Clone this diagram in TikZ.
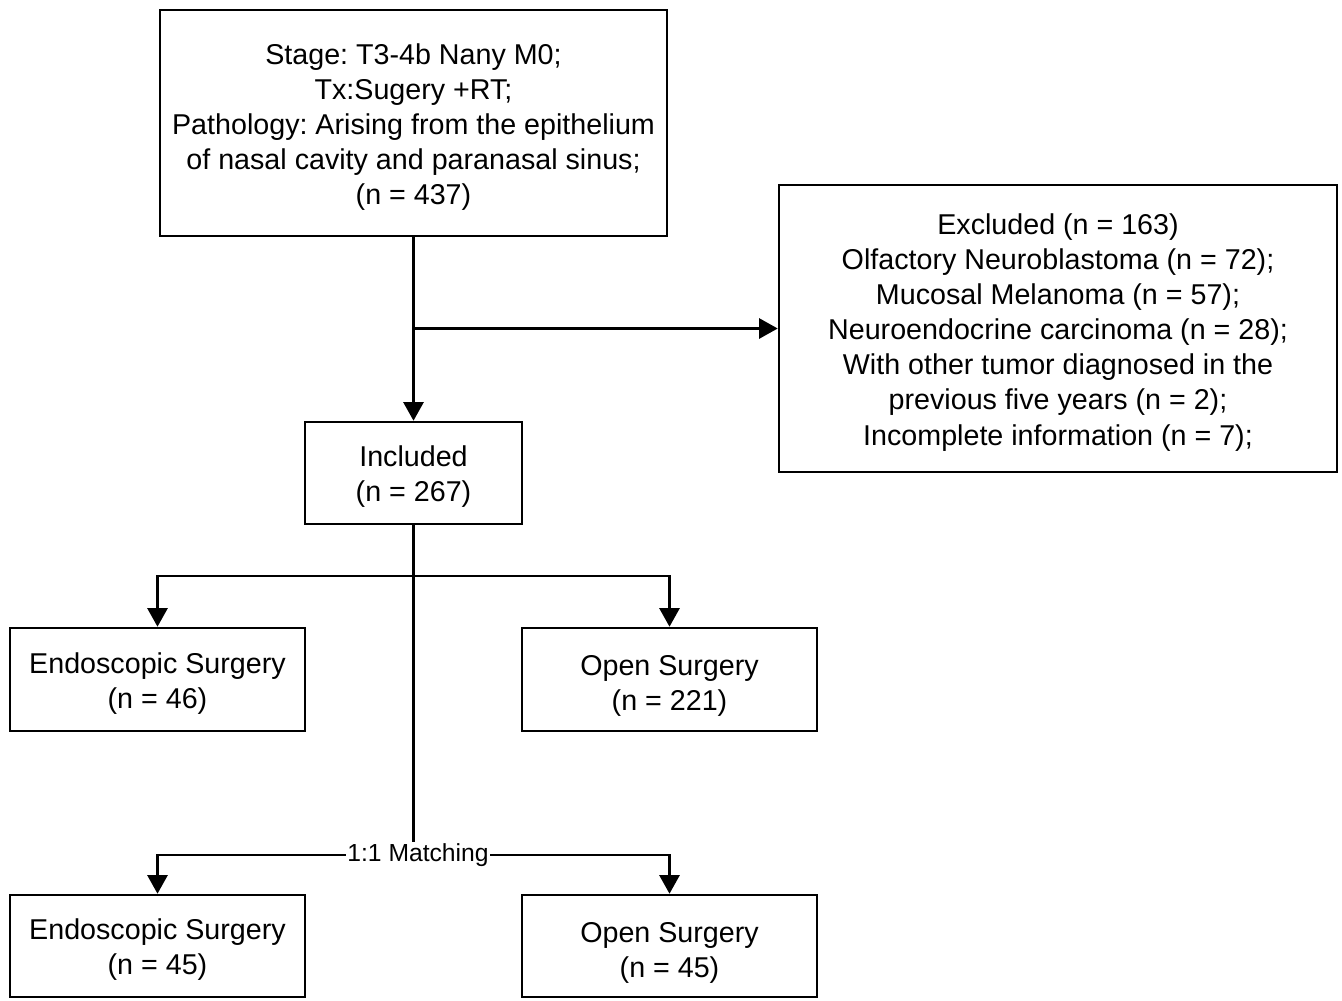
\documentclass[tikz,border=0pt]{standalone}
\usepackage{fontspec}
\setmainfont{Liberation Sans}
\usetikzlibrary{arrows.meta,calc}
\frenchspacing
\newcommand\tpx{\rule{0pt}{21.5pt}}
\begin{document}
\begin{tikzpicture}[x=0.75pt,y=-0.75pt,
  box/.style={draw,line width=1.9pt,align=center,inner sep=0pt,
    font=\fontsize{21.5}{26.3}\selectfont},
  arr/.style={line width=2.2pt,-{Triangle[width=15pt,length=14pt]}},
  ln/.style={line width=2.2pt}]
\useasboundingbox (0,0) rectangle (1342,1000);
\node[box,minimum width=380.25pt,minimum height=169.5pt] (top) at (413.5,123)
  {\tpx Stage: T3-4b Nany M0;\\Tx:Sugery +RT;\\Pathology: Arising from the epithelium\\of nasal cavity and paranasal sinus;\\(n = 437)};
\node[box,minimum width=418.5pt,minimum height=215.25pt] (exc) at (1058,328.5)
  {\tpx Excluded (n = 163)\\Olfactory Neuroblastoma (n = 72);\\Mucosal Melanoma (n = 57);\\Neuroendocrine carcinoma (n = 28);\\With other tumor diagnosed in the\\previous five years (n = 2);\\Incomplete information (n = 7);};
\node[box,minimum width=162.75pt,minimum height=76.5pt] (inc) at (413.5,473)
  {\tpx Included\\(n = 267)};
\node[box,minimum width=221.25pt,minimum height=77.25pt] (endo1) at (157.5,679.5)
  {\tpx Endoscopic Surgery\\(n = 46)};
\node[box,minimum width=221.25pt,minimum height=77.25pt] (open1) at (669.5,679.5)
  {\rule{0pt}{25pt}Open Surgery\\(n = 221)};
\node[box,minimum width=221.25pt,minimum height=76.5pt] (endo2) at (157.5,946)
  {\tpx Endoscopic Surgery\\(n = 45)};
\node[box,minimum width=221.25pt,minimum height=76.5pt] (open2) at (669.5,946)
  {\rule{0pt}{25pt}Open Surgery\\(n = 45)};
\node[fill=white,inner sep=1pt,font=\fontsize{18.5}{22}\selectfont] (match) at (418,855) {1:1 Matching};
\coordinate (j1) at (top.south |- exc.west);
\coordinate (b1) at (413.5,576);
\draw[arr] (top.south) -- (inc.north);
\draw[arr] (j1) -- (exc.west);
\draw[ln] (inc.south) -- (inc.south |- match.north);
\draw[arr] (b1) -| (endo1.north);
\draw[arr] (b1) -| (open1.north);
\draw[arr] (match.west) -| (endo2.north);
\draw[arr] (match.east) -| (open2.north);
\end{tikzpicture}
\end{document}
